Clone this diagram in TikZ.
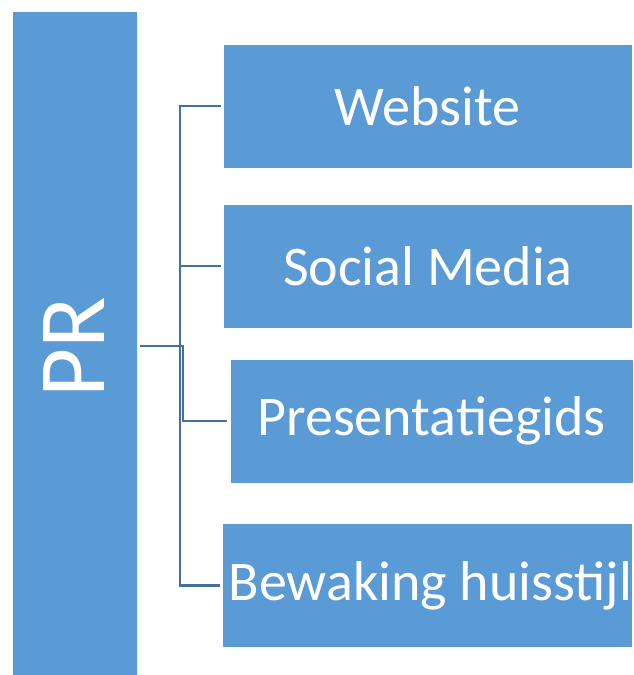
\documentclass[tikz,border=0pt]{standalone}
\usepackage{fontspec}
\setmainfont{Carlito}
\usetikzlibrary{calc}
\definecolor{boxblue}{HTML}{5B9BD5}
\definecolor{linkblue}{HTML}{41719C}
\tikzset{
    mainbox/.style={fill=boxblue,draw=white,line width=0.8pt,text=white,inner sep=0pt},
    prbox/.style={mainbox,minimum width=125pt,minimum height=664pt,
        font=\fontsize{95}{100}\selectfont},
    itembox/.style={mainbox,minimum width=409pt,minimum height=124pt,
        font=\fontsize{56}{62}\selectfont},
    link/.style={linkblue,line width=2.2pt}
}

\begin{document}
\begin{tikzpicture}[x=1pt,y=-1pt]
\useasboundingbox (0,0) rectangle (633,675);
\node[prbox](pr) at (74.5,343){\rotatebox{90}{PR\hspace*{9pt}}};
\node[itembox](web) at (427.5,106){Website};
\node[itembox](soc) at (427.5,266){Social Media};
\node[itembox,minimum width=403pt](pres) at (431.5,421){Presentatiegids};
\node[itembox](bew) at (427.5,585.5){\hspace*{6pt}Bewaking huisstijl};

\coordinate (spine) at (180,0);
\draw[link]([xshift=-2pt]web.west) -| (spine |- web) |- ([xshift=-2pt]bew.west);
\draw[link]([xshift=-2pt]soc.west) -- (spine |- soc);
\draw[link]([xshift=-3pt]pres.west) -| ($(spine |- pres)+(3,0)$) |- ($(pr.east)+(3,3)$);
\end{tikzpicture}
\end{document}
